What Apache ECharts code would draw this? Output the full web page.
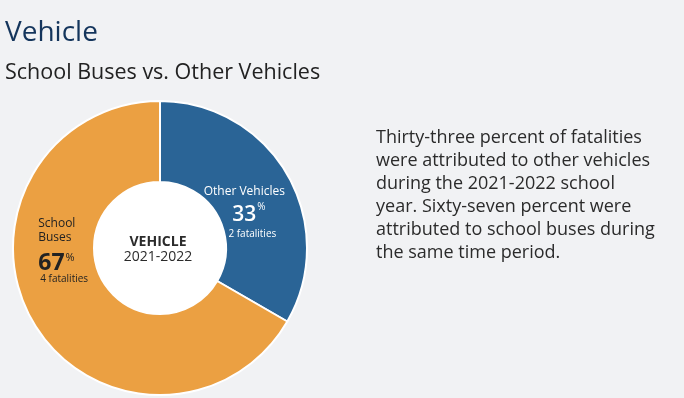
<!DOCTYPE html>
<html>
<head>
<meta charset="utf-8">
<script src="https://cdn.jsdelivr.net/npm/echarts@6/dist/echarts.min.js"></script>
<style>
  html, body { margin: 0; padding: 0; background: #f1f2f4; }
  #chart1 { width: 684px; height: 398px; }
</style>
</head>
<body>
<div id="chart1"></div>
<script>
// data
var categories = ["Other Vehicles", "School Buses"];
var fatalities = [2, 4];
var percents = [33, 67];
var sliceColors = ["#2a6496", "#eba042"];

var descLines = [
	"Thirty-three percent of fatalities",
	"were attributed to other vehicles",
	"during the 2021-2022 school",
	"year. Sixty-seven percent were",
	"attributed to school buses during",
	"the same time period."
];

var FONT = "'Open Sans', 'Noto Sans', sans-serif";

var chart = echarts.init(document.getElementById("chart1"));

// label styles per slice
var labelCfg = [
	{
		align: "center",
		offset: [-6, 17],
		rich: {
			name: { fontSize: 12, color: "#fff", fontFamily: FONT, lineHeight: 22, padding: [0, 9, 0, 0] },
			pct: { fontSize: 21, fontWeight: 600, color: "#fff", fontFamily: FONT, lineHeight: 26 },
			sup: { fontSize: 10, color: "#fff", fontFamily: FONT, verticalAlign: "top", padding: [0, 0, 4, 1] },
			fat: { fontSize: 10, color: "#fff", fontFamily: FONT, lineHeight: 12, padding: [0, 0, 0, 7] }
		}
	},
	{
		align: "left",
		offset: [-2, -53],
		rich: {
			name: { fontSize: 12, color: "#222", fontFamily: FONT, lineHeight: 14, align: "left" },
			gap: { fontSize: 1, lineHeight: 8, align: "left" },
			pct: { fontSize: 23, fontWeight: 700, color: "#222", fontFamily: FONT, lineHeight: 22, align: "left" },
			sup: { fontSize: 11, color: "#222", fontFamily: FONT, verticalAlign: "top", padding: [0, 0, 4, 1], align: "left" },
			fat: { fontSize: 10, color: "#222", fontFamily: FONT, lineHeight: 8, padding: [0, 0, 0, 2], align: "left" }
		}
	}
];

var labelNames = ["Other Vehicles", "School\nBuses"];

var pieData = [];
for (let i = 0; i < categories.length; i++) {
	var nm = labelNames[i].split("\n").map(function (s) { return "{name|" + s + "}"; }).join("\n");
	var gap = i === 1 ? "\n{gap| }" : "";
	pieData.push({
		name: categories[i],
		value: fatalities[i],
		itemStyle: { color: sliceColors[i] },
		label: {
			show: true,
			position: "inside",
			align: labelCfg[i].align,
			offset: labelCfg[i].offset,
			formatter: nm + gap + "\n{pct|" + percents[i] + "}{sup|%}\n{fat|" + fatalities[i] + " fatalities}",
			rich: labelCfg[i].rich
		}
	});
}

var descText = [];
for (let i = 0; i < descLines.length; i++) {
	descText.push({
		type: "text",
		left: 376,
		top: 129 + i * 23,
		style: { text: descLines[i], fill: "#2b2b2b", font: "18px " + FONT }
	});
}

var option = {
	backgroundColor: "#f1f2f4",
	animation: false,
	title: [
		{
			text: "Vehicle",
			left: 0,
			top: 14,
			textStyle: { fontSize: 28, fontWeight: 400, color: "#14355c", fontFamily: FONT }
		},
		{
			text: "School Buses vs. Other Vehicles",
			left: 0,
			top: 57,
			textStyle: { fontSize: 21.5, fontWeight: 400, color: "#222", fontFamily: FONT }
		}
	],
	series: [
		{
			// white hole in the middle
			type: "pie",
			center: [160, 248],
			radius: [0, 67],
			silent: true,
			z: 1,
			label: { show: false },
			labelLine: { show: false },
			itemStyle: { color: "#fff" },
			emphasis: { disabled: true },
			data: [1]
		},
		{
			type: "pie",
			center: [160, 248],
			radius: [66, 147],
			startAngle: 90,
			silent: true,
			z: 2,
			itemStyle: { borderColor: "#fff", borderWidth: 2 },
			labelLine: { show: false },
			emphasis: { disabled: true },
			data: pieData
		}
	],
	graphic: [
		{
			type: "text",
			x: 158,
			y: 242,
			z: 100,
			style: { text: "VEHICLE", fill: "#2b2b2b", font: "bold 14px " + FONT, align: "center", verticalAlign: "middle" }
		},
		{
			type: "text",
			x: 158,
			y: 257,
			z: 100,
			style: { text: "2021-2022", fill: "#2b2b2b", font: "14px " + FONT, align: "center", verticalAlign: "middle" }
		}
	].concat(descText)
};

chart.setOption(option);
</script>
</body>
</html>
